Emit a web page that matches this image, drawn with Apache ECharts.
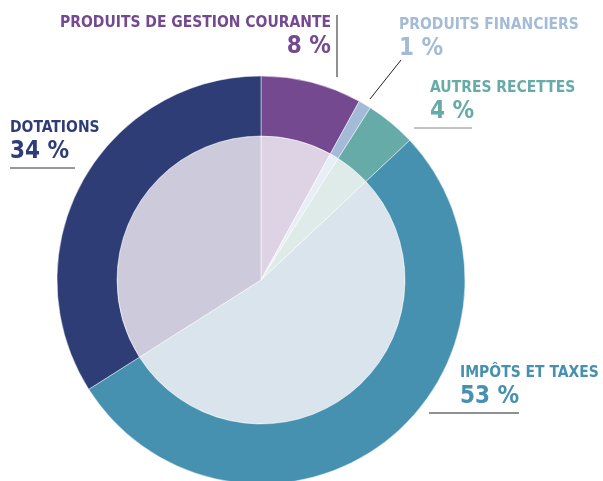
<!DOCTYPE html>
<html>
<head>
<meta charset="utf-8">
<script src="https://cdn.jsdelivr.net/npm/echarts@6/dist/echarts.min.js"></script>
<style>
  html, body { margin: 0; padding: 0; background: #fff; }
  #chart { width: 603px; height: 481px; }
</style>
</head>
<body>
<div id="chart"></div>
<script>
// catégories de recettes, dans le sens horaire depuis midi
const categories = ['PRODUITS DE GESTION COURANTE', 'PRODUITS FINANCIERS', 'AUTRES RECETTES', 'IMPÔTS ET TAXES', 'DOTATIONS'];
const shares = [8, 1, 4, 53, 34];
const ringColors = ['#74498f', '#a3bbd6', '#66aba8', '#4690b0', '#2f3d76'];
const fillColors = ['#ddd3e4', '#e8eef5', '#deebe8', '#d9e4ec', '#cdcadb'];

// position des étiquettes : x, y (haut), alignement
const labelPos = [
  [331, 13, 'right'],
  [399, 15, 'left'],
  [430, 78, 'left'],
  [460, 363, 'left'],
  [10, 118, 'left']
];
// traits d'accompagnement des étiquettes
const leaderLines = [
  { pts: [337, 15, 337, 77], color: '#222' },
  { pts: [401, 60, 370, 99], color: '#222' },
  { pts: [414, 128, 472, 128], color: '#888' },
  { pts: [10, 168, 75, 168], color: '#333' },
  { pts: [429, 413, 519, 413], color: '#222' }
];

const FONT = "'DejaVu Sans Condensed', 'Liberation Sans Narrow', sans-serif";
const CENTER = [261, 280];

const chart = echarts.init(document.getElementById('chart'), null, { renderer: 'canvas' });

const option = {
  animation: false,
  backgroundColor: '#fff',
  series: [
    {
      // disque intérieur clair
      type: 'pie',
      center: CENTER,
      radius: [0, 144],
      startAngle: 90,
      silent: true,
      label: { show: false },
      labelLine: { show: false },
      itemStyle: { borderColor: 'rgba(255,255,255,0.7)', borderWidth: 0.8 },
      data: categories.map((name, i) => ({
        name: name,
        value: shares[i],
        itemStyle: { color: fillColors[i] }
      }))
    },
    {
      // anneau extérieur
      type: 'pie',
      center: CENTER,
      radius: [144, 204],
      startAngle: 90,
      silent: true,
      avoidLabelOverlap: false,
      itemStyle: { borderColor: 'rgba(255,255,255,0.6)', borderWidth: 0.8 },
      labelLine: { show: false },
      label: {
        show: true,
        position: 'outside',
        overflow: 'none',
        fontFamily: FONT,
        fontWeight: 'bold',
        formatter: (p) => '{n|' + p.name + '}\n{v|' + p.value + ' %}',
        rich: {
          n: { fontFamily: FONT, fontWeight: 'bold', fontSize: 15.5, lineHeight: 19 },
          v: { fontFamily: FONT, fontWeight: 'bold', fontSize: 24, lineHeight: 29 }
        }
      },
      labelLayout: (params) => {
        const p = labelPos[params.dataIndex];
        return { x: p[0], y: p[1], align: p[2], verticalAlign: 'top', hideOverlap: false };
      },
      data: categories.map((name, i) => ({
        name: name,
        value: shares[i],
        itemStyle: { color: ringColors[i] },
        label: {
          color: ringColors[i],
          align: labelPos[i][2],
          rich: {
            n: { color: ringColors[i], align: labelPos[i][2] },
            v: { color: ringColors[i], align: labelPos[i][2] }
          }
        }
      }))
    }
  ],
  graphic: leaderLines.map((l) => ({
    type: 'line',
    silent: true,
    shape: { x1: l.pts[0], y1: l.pts[1], x2: l.pts[2], y2: l.pts[3] },
    style: { stroke: l.color, lineWidth: 1 }
  }))
};

chart.setOption(option);
</script>
</body>
</html>
